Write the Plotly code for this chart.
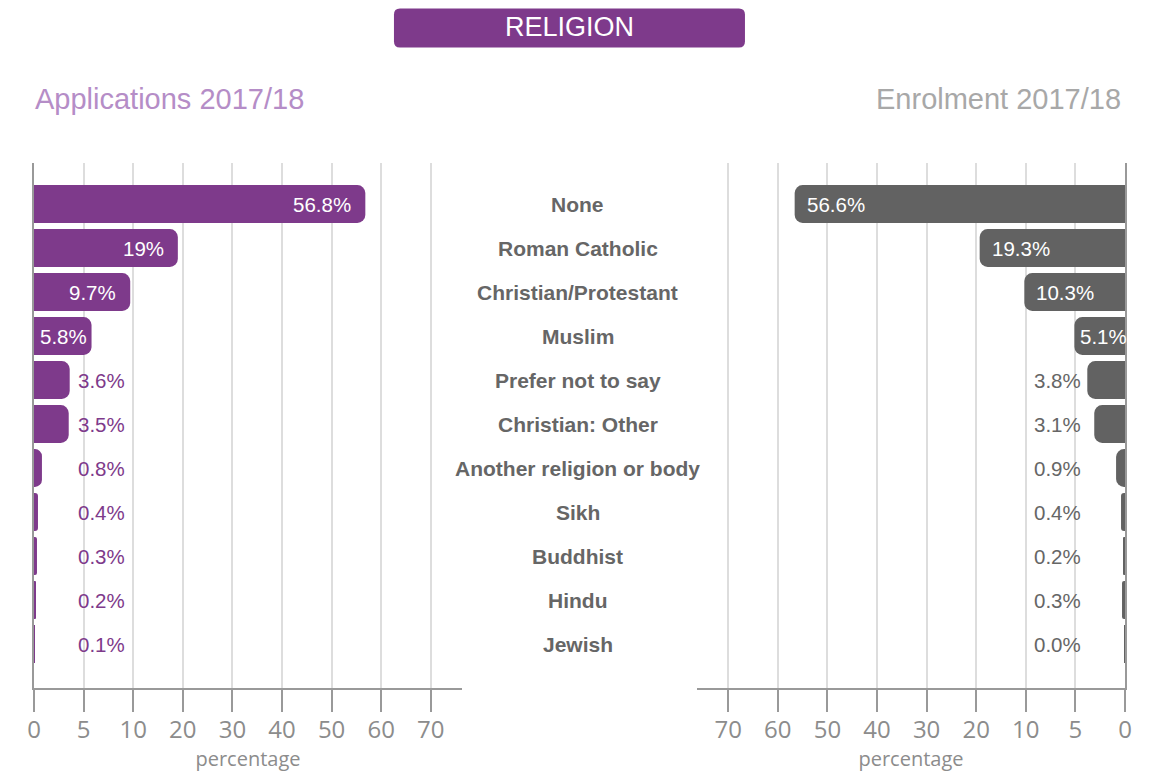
import numpy as np
import plotly.graph_objects as go

# ---------------- data ----------------
categories = ["None", "Roman Catholic", "Christian/Protestant", "Muslim",
              "Prefer not to say", "Christian: Other", "Another religion or body",
              "Sikh", "Buddhist", "Hindu", "Jewish"]
applications = [56.8, 19, 9.7, 5.8, 3.6, 3.5, 0.8, 0.4, 0.3, 0.2, 0.1]
application_labels = ["56.8%", "19%", "9.7%", "5.8%", "3.6%", "3.5%", "0.8%",
                      "0.4%", "0.3%", "0.2%", "0.1%"]
enrolment = [56.6, 19.3, 10.3, 5.1, 3.8, 3.1, 0.9, 0.4, 0.2, 0.3, 0.04]
enrolment_labels = ["56.6%", "19.3%", "10.3%", "5.1%", "3.8%", "3.1%", "0.9%",
                    "0.4%", "0.2%", "0.3%", "0.0%"]
tick_values = [0, 5, 10, 20, 30, 40, 50, 60, 70]
tick_labels = ["0", "5", "10", "20", "30", "40", "50", "60", "70"]

# ---------------- styles ----------------
PURPLE = "#7e3a8b"
LIGHT_PURPLE = "#b58dc7"
DARK_GRAY = "#626262"
TEXT_GRAY = "#666666"
AXIS_GRAY = "#999999"
GRID = "#dddddd"
TICK_FONT = dict(family="Open Sans, DejaVu Sans, sans-serif", size=24, color="#8c8c8c")
TITLE_FONT = dict(family="Open Sans, DejaVu Sans, sans-serif", size=20, color="#8c8c8c")
LABEL_FAMILY = "Liberation Sans, Arial, sans-serif"
PX_PER_UNIT = 49.6


def to_axis(v):
    # piecewise scale defined by the tick values (equal spacing between ticks)
    return float(np.interp(v, tick_values, range(len(tick_values))))


app_pos = [to_axis(v) for v in applications]
enr_pos = [to_axis(v) for v in enrolment]
tick_pos = [to_axis(v) for v in tick_values]

fig = go.Figure()
fig.add_trace(go.Bar(y=categories, x=app_pos, orientation="h", xaxis="x", yaxis="y",
                     marker=dict(color=PURPLE, line_width=0), width=0.86,
                     hoverinfo="skip", showlegend=False))
fig.add_trace(go.Bar(y=categories, x=enr_pos, orientation="h", xaxis="x2", yaxis="y2",
                     marker=dict(color=DARK_GRAY, line_width=0), width=0.86,
                     hoverinfo="skip", showlegend=False))

annotations = []
INSIDE_MIN = 5
OUTSIDE_POS = 0.85
for cat, v, p, lab in zip(categories, applications, app_pos, application_labels):
    if v >= INSIDE_MIN:
        shift = -12 if p * PX_PER_UNIT > 70 else -3
        annotations.append(dict(x=p, y=cat, xref="x", yref="y", text=lab, showarrow=False,
                                xanchor="right", xshift=shift,
                                font=dict(family=LABEL_FAMILY, size=20.5, color="white")))
    else:
        annotations.append(dict(x=OUTSIDE_POS, y=cat, xref="x", yref="y", text=lab,
                                showarrow=False, xanchor="left",
                                font=dict(family=LABEL_FAMILY, size=20.5, color=PURPLE)))
for cat, v, p, lab in zip(categories, enrolment, enr_pos, enrolment_labels):
    if v >= INSIDE_MIN:
        shift = 10 if p * PX_PER_UNIT > 70 else 4
        annotations.append(dict(x=p, y=cat, xref="x2", yref="y2", text=lab, showarrow=False,
                                xanchor="left", xshift=shift,
                                font=dict(family=LABEL_FAMILY, size=20.5, color="white")))
    else:
        annotations.append(dict(x=OUTSIDE_POS, y=cat, xref="x2", yref="y2", text=lab,
                                showarrow=False, xanchor="right",
                                font=dict(family=LABEL_FAMILY, size=20.5, color=TEXT_GRAY)))

for cat in categories:
    annotations.append(dict(x=0.4986, y=cat, xref="paper", yref="y", text=f"<b>{cat}</b>",
                            showarrow=False, xanchor="center",
                            font=dict(family=LABEL_FAMILY, size=21, color=TEXT_GRAY)))

annotations += [
    dict(x=0.4908, y=1.259, xref="paper", yref="paper", text="RELIGION", showarrow=False,
         xanchor="center", yanchor="middle",
         font=dict(family=LABEL_FAMILY, size=27, color="white")),
    dict(x=-0.001, y=1.122, xref="paper", yref="paper", text="Applications 2017/18",
         showarrow=False, xanchor="left", yanchor="middle",
         font=dict(family=LABEL_FAMILY, size=29, color=LIGHT_PURPLE)),
    dict(x=0.998, y=1.122, xref="paper", yref="paper", text="Enrolment 2017/18",
         showarrow=False, xanchor="right", yanchor="middle",
         font=dict(family=LABEL_FAMILY, size=29, color="#a8a8a8")),
]

w, h, r = 175.5, 19.5, 6
box_path = (f"M {-w + r},{-h} L {w - r},{-h} Q {w},{-h} {w},{-h + r} L {w},{h - r} "
            f"Q {w},{h} {w - r},{h} L {-w + r},{h} Q {-w},{h} {-w},{h - r} "
            f"L {-w},{-h + r} Q {-w},{-h} {-w + r},{-h} Z")

x_common = dict(tickmode="array", tickvals=tick_pos, ticktext=tick_labels,
                showgrid=True, gridcolor=GRID, gridwidth=1.5, zeroline=False,
                showline=True, linecolor=AXIS_GRAY, linewidth=1.5,
                ticks="outside", ticklen=22, tickwidth=1.5, tickcolor=AXIS_GRAY,
                tickfont=TICK_FONT, ticklabelstandoff=-3,
                fixedrange=True, automargin=False,
                title=dict(text="percentage", font=TITLE_FONT, standoff=8))
span = 428 / PX_PER_UNIT

# the page body adds an 8px offset, so the figure is 8px smaller and margins shifted
fig.update_layout(
    width=1146, height=769,
    margin=dict(l=26, r=29, t=155, b=89),
    paper_bgcolor="white", plot_bgcolor="white",
    barcornerradius=8,
    showlegend=False,
    xaxis=dict(domain=[0, 0.3923], range=[0, span], anchor="y", **x_common),
    xaxis2=dict(domain=[0.6077, 1], range=[span, 0], anchor="y2", **x_common),
    yaxis=dict(anchor="x", range=[11.0, -0.932], showticklabels=False, showgrid=False,
               zeroline=False, showline=True, linecolor=AXIS_GRAY, linewidth=1.5,
               ticks="", automargin=False, fixedrange=True),
    yaxis2=dict(anchor="x2", side="right", range=[11.0, -0.932], showticklabels=False,
                showgrid=False, zeroline=False, showline=True, linecolor=AXIS_GRAY,
                linewidth=1.5, ticks="", automargin=False, fixedrange=True),
    annotations=annotations,
    shapes=[dict(type="path", xref="paper", yref="paper", xsizemode="pixel",
                 ysizemode="pixel", xanchor=0.4908, yanchor=1.257, path=box_path,
                 fillcolor=PURPLE, line=dict(width=0), layer="above")],
)

fig.write_html("out.html")
